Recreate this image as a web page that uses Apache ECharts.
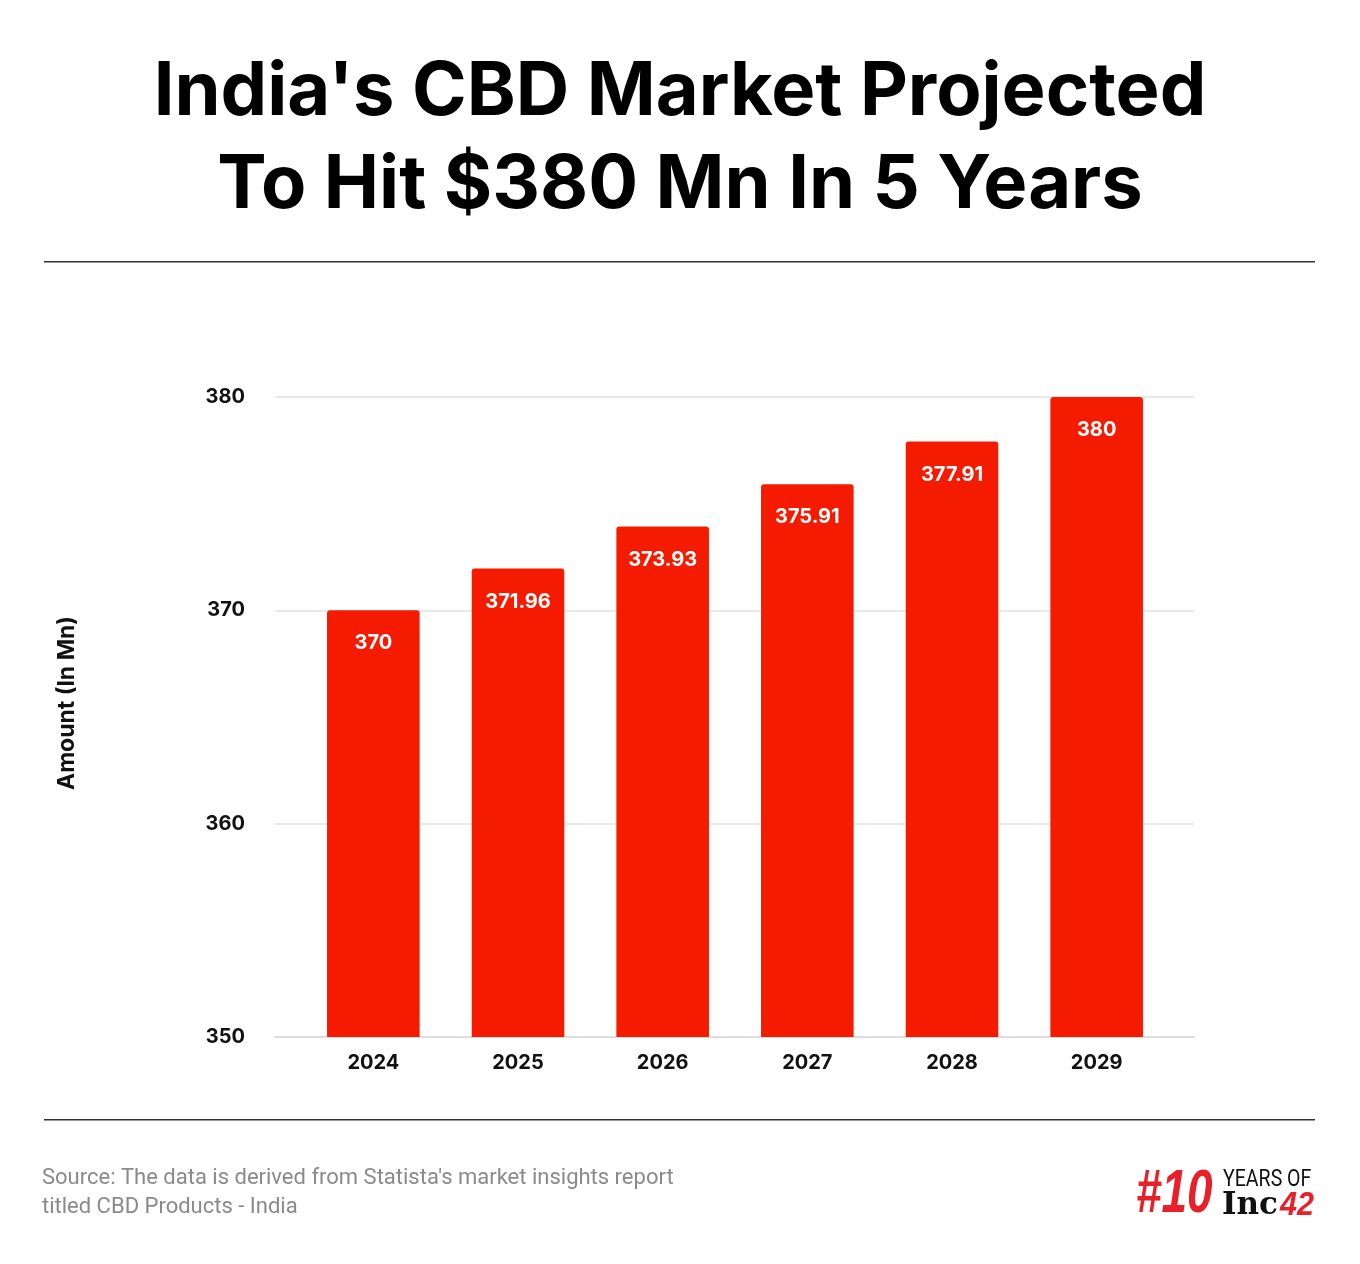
<!DOCTYPE html>
<html>
<head>
<meta charset="utf-8">
<script src="https://cdn.jsdelivr.net/npm/echarts@6/dist/echarts.min.js"></script>
<style>
html,body{margin:0;padding:0;background:#fff;}
#c{width:1360px;height:1264px;}
</style>
</head>
<body>
<div id="c"></div>
<script>
const categories = ['2024', '2025', '2026', '2027', '2028', '2029'];
const values = [370, 371.96, 373.93, 375.91, 377.91, 380];
const yTicks = { min: 350, max: 380, interval: 10 };
const titleLines = ["India's CBD Market Projected", "To Hit $380 Mn In 5 Years"];
const yAxisName = 'Amount (In Mn)';
const sourceLines = ["Source: The data is derived from Statista's market insights report", "titled CBD Products - India"];

const chart = echarts.init(document.getElementById('c'));
const RED = '#F51B00';
const labelFont = { color: '#111', fontFamily: 'Inter', fontWeight: 'bold', fontSize: 20 };
chart.setOption({
  backgroundColor: '#fff',
  animation: false,
  grid: [
    { left: 275, right: 166, top: 397, bottom: 227, containLabel: false },
    { left: 301, right: 191, top: 397, bottom: 227, containLabel: false }
  ],
  xAxis: [
    {
      gridIndex: 0, type: 'category', data: categories,
      axisLine: { show: true, lineStyle: { color: '#dddddd', width: 2 } },
      axisTick: { show: false }, axisLabel: { show: false }
    },
    {
      gridIndex: 1, type: 'category', data: categories,
      axisLine: { show: false }, axisTick: { show: false },
      axisLabel: Object.assign({ margin: 16 }, labelFont)
    }
  ],
  yAxis: [
    {
      gridIndex: 0, type: 'value',
      min: yTicks.min, max: yTicks.max, interval: yTicks.interval,
      axisLine: { show: false }, axisTick: { show: false },
      axisLabel: Object.assign({ margin: 30 }, labelFont),
      splitLine: { lineStyle: { color: '#e2e2e2', width: 1.5 } }
    },
    {
      gridIndex: 1, type: 'value',
      min: yTicks.min, max: yTicks.max, interval: yTicks.interval,
      axisLine: { show: false }, axisTick: { show: false },
      axisLabel: { show: false }, splitLine: { show: false }
    }
  ],
  series: [{
    type: 'bar',
    xAxisIndex: 1, yAxisIndex: 1,
    data: values,
    barWidth: '64%',
    itemStyle: { color: RED, borderRadius: [3, 3, 0, 0] },
    label: {
      show: true, position: 'insideTop', distance: 23,
      color: '#fff', fontFamily: 'Inter', fontWeight: 'bold', fontSize: 20
    }
  }],
  graphic: [
    { type: 'text', x: 680, y: 93, style: { text: titleLines[0], font: 'bold 74px Inter', fill: '#000', align: 'center', verticalAlign: 'middle' } },
    { type: 'text', x: 680, y: 186, style: { text: titleLines[1], font: 'bold 74px Inter', fill: '#000', align: 'center', verticalAlign: 'middle' } },
    { type: 'text', x: 67, y: 703, rotation: Math.PI / 2, style: { text: yAxisName, font: 'bold 23px Inter', fill: '#111', align: 'center', verticalAlign: 'middle' } },
    { type: 'rect', shape: { x: 44, y: 261, width: 1271, height: 1.5 }, style: { fill: '#333' } },
    { type: 'rect', shape: { x: 44, y: 1119, width: 1271, height: 1.5 }, style: { fill: '#333' } },
    { type: 'text', x: 42, y: 1178, style: { text: sourceLines[0], font: '22px Roboto', fill: '#8a8a8a', verticalAlign: 'middle' } },
    { type: 'text', x: 42, y: 1207, style: { text: sourceLines[1], font: '22px Roboto', fill: '#8a8a8a', verticalAlign: 'middle' } },
    { type: 'text', x: 1136, y: 1195, scaleX: 0.74, style: { text: '#10', font: 'italic 900 62px "Liberation Sans"', fill: '#E8202A', verticalAlign: 'middle' } },
    { type: 'text', x: 1223, y: 1180, scaleX: 0.85, style: { text: 'YEARS OF', font: '23px Roboto', fill: '#111', verticalAlign: 'middle' } },
    { type: 'text', x: 1222, y: 1206, style: { text: 'Inc', font: 'bold 31px "DejaVu Serif"', fill: '#111', verticalAlign: 'middle' } },
    { type: 'text', x: 1280, y: 1206, scaleX: 0.9, style: { text: '42', font: 'italic 900 34px "Liberation Sans"', fill: '#E8202A', verticalAlign: 'middle' } }
  ]
});
</script>
</body>
</html>
